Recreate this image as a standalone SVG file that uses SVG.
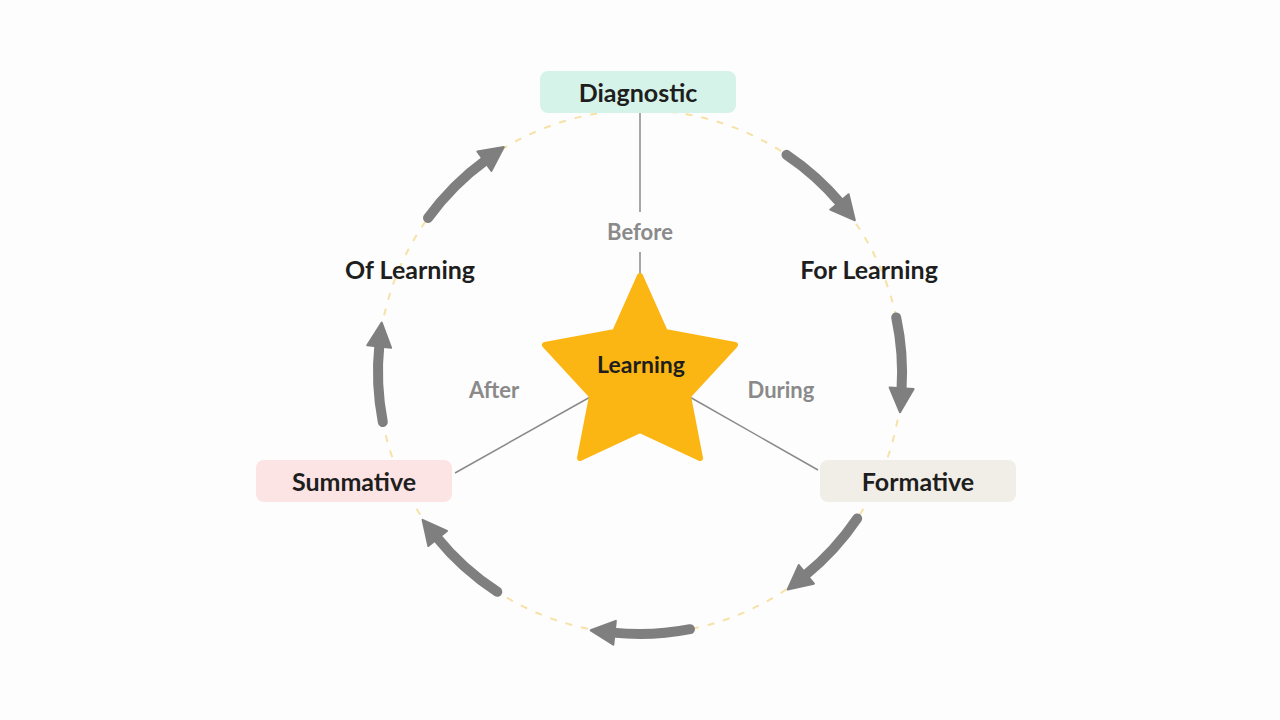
<svg xmlns="http://www.w3.org/2000/svg" width="1280" height="720" viewBox="0 0 1280 720">
<style>
.t{font-family:Lato,"Noto Sans",sans-serif;font-weight:bold;font-size:25px;fill:#1e1e1e;text-anchor:middle}
.g{font-family:Lato,"Noto Sans",sans-serif;font-weight:bold;font-size:22px;fill:#8a8a8a;text-anchor:middle}
.a{fill:none;stroke:#7f7f7f;stroke-width:10;stroke-linecap:round}
.l{stroke:#8a8a8a;stroke-width:1.5}
</style>
<defs>
<marker id="ah" markerUnits="userSpaceOnUse" markerWidth="30" markerHeight="30" viewBox="0 0 30 30" refX="4" refY="15" orient="auto">
<path d="M2 3 L26 15 L2 27 Z" fill="#7f7f7f" stroke="#7f7f7f" stroke-width="2" stroke-linejoin="round"/>
</marker>
</defs>
<rect width="1280" height="720" fill="#fdfdfd"/>
<circle cx="640" cy="372" r="262" fill="none" stroke="#f6e1a6" stroke-width="2" stroke-dasharray="7 9"/>
<g id="connectors">
<line class="l" x1="640" y1="113" x2="640" y2="212"/>
<line class="l" x1="640" y1="252" x2="640" y2="278"/>
<line class="l" x1="592" y1="396" x2="455" y2="473"/>
<line class="l" x1="688" y1="396" x2="818" y2="470"/>
<path class="a" marker-end="url(#ah)" d="M786.5 154.8 A262 262 0 0 1 840.7 203.5"/>
<path class="a" marker-end="url(#ah)" d="M896.2 317.5 A262 262 0 0 1 901.5 390.3"/>
<path class="a" marker-end="url(#ah)" d="M857.2 518.5 A262 262 0 0 1 804.8 575.6"/>
<path class="a" marker-end="url(#ah)" d="M690 629.2 A262 262 0 0 1 612.6 632.6"/>
<path class="a" marker-end="url(#ah)" d="M497.3 591.8 A262 262 0 0 1 436.4 536.9"/>
<path class="a" marker-end="url(#ah)" d="M382.8 422 A262 262 0 0 1 379.4 344.5"/>
<path class="a" marker-end="url(#ah)" d="M428 218 A262 262 0 0 1 486 160"/>
</g>
<g id="diagnostic"><rect x="540" y="71" width="196" height="42" rx="8" fill="#d6f3ea"/><text class="t" x="638" y="102">Diagnostic</text></g>
<g id="summative"><rect x="256" y="460" width="196" height="42" rx="8" fill="#fce4e4"/><text class="t" x="354" y="491">Summative</text></g>
<g id="formative"><rect x="820" y="460" width="196" height="42" rx="8" fill="#f1eee7"/><text class="t" x="918" y="491">Formative</text></g>
<g id="of-learning"><text class="t" x="410" y="279">Of Learning</text></g>
<g id="for-learning"><text class="t" x="869" y="279">For Learning</text></g>
<g id="before"><text class="g" x="640" y="240">Before</text></g>
<g id="after"><text class="g" x="494" y="398">After</text></g>
<g id="during"><text class="g" x="781" y="398">During</text></g>
<g id="learning">
<path d="M640 276 L665 332 L735 345 L688 396 L700 458 L640 430 L580 458 L592 396 L545 345 L615 332 Z" fill="#fbb614" stroke="#fbb614" stroke-width="6" stroke-linejoin="round"/>
<text class="t" x="641" y="373" style="font-size:23px">Learning</text>
</g>
</svg>
